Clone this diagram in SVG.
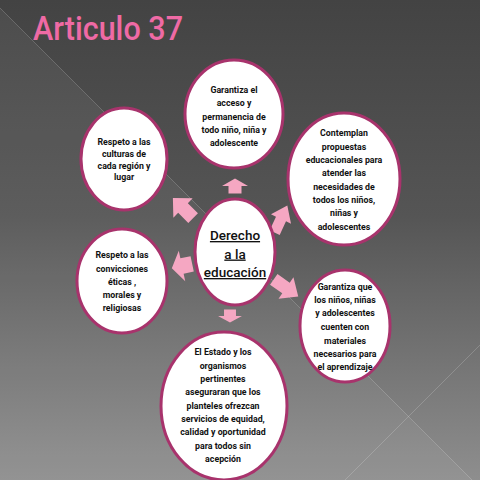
<svg xmlns="http://www.w3.org/2000/svg" xmlns:xlink="http://www.w3.org/1999/xlink" width="480" height="480" viewBox="0 0 480 480">
<defs>
<linearGradient id="bg" x1="0" y1="0" x2="0" y2="1">
<stop offset="0" stop-color="#434343"/>
<stop offset="0.45" stop-color="#555555"/>
<stop offset="1" stop-color="#8e8e8e"/>
</linearGradient>
<path id="arr" d="M-13,-6.5 L0,-6.5 L0,-13 L13,0 L0,13 L0,6.5 L-13,6.5 Z"/>
</defs>
<style>
.node ellipse{fill:#ffffff;stroke:#a8336c;stroke-width:3}
.t{font-family:Roboto,"Liberation Sans",Arial,sans-serif;font-weight:bold;font-size:8.8px;fill:#111111;text-anchor:middle}
.c{font-family:Roboto,"Liberation Sans",Arial,sans-serif;font-size:13.5px;font-weight:500;fill:#111111;text-anchor:middle;text-decoration:underline}
.arrows use{fill:#f5a7c2}
.title{font-family:Roboto,"Liberation Sans",Arial,sans-serif;font-weight:500;font-size:34px;fill:#ef6aa5}
</style>
<rect x="0" y="0" width="480" height="480" fill="url(#bg)"/>
<polygon points="0,8 480,488 0,488" fill="#ffffff" fill-opacity="0.05"/>
<line x1="0" y1="8" x2="480" y2="488" stroke="#ffffff" stroke-opacity="0.18" stroke-width="1"/>
<line x1="480" y1="345" x2="345" y2="480" stroke="#ffffff" stroke-opacity="0.18" stroke-width="1"/>
<text class="title" x="33" y="40" textLength="150" lengthAdjust="spacingAndGlyphs">Articulo 37</text>
<g id="connectors" class="arrows">
<use xlink:href="#arr" transform="translate(235,186) rotate(-90) scale(0.58,1)"/>
<use xlink:href="#arr" transform="translate(183,208) rotate(-135) scale(1.1,1.05)"/>
<use xlink:href="#arr" transform="translate(281,219) rotate(-65) scale(1.15,0.85)"/>
<use xlink:href="#arr" transform="translate(286,288) rotate(35) scale(1.15,1)"/>
<use xlink:href="#arr" transform="translate(230,316) rotate(90) scale(0.5,0.92)"/>
<use xlink:href="#arr" transform="translate(182,266) rotate(168) scale(0.8,1.2)"/>
</g>
<g id="n-acceso" class="node">
<ellipse cx="234" cy="114" rx="49" ry="54"/>
<text class="t" x="234" y="93">Garantiza el</text>
<text class="t" x="234" y="106">acceso y</text>
<text class="t" x="234" y="120">permanencia de</text>
<text class="t" x="234" y="133">todo niño, niña y</text>
<text class="t" x="234" y="146">adolescente</text>
</g>
<g id="n-propuestas" class="node">
<ellipse cx="344" cy="179" rx="56" ry="66"/>
<text class="t" x="344" y="136">Contemplan</text>
<text class="t" x="344" y="149.5">propuestas</text>
<text class="t" x="344" y="163">educacionales para</text>
<text class="t" x="344" y="176">atender  las</text>
<text class="t" x="344" y="189.5">necesidades de</text>
<text class="t" x="344" y="203">todos los niños,</text>
<text class="t" x="344" y="216">niñas y</text>
<text class="t" x="344" y="229.5">adolescentes</text>
</g>
<g id="n-culturas" class="node">
<ellipse cx="124" cy="159" rx="43" ry="51"/>
<text class="t" x="124" y="144.5">Respeto a  las</text>
<text class="t" x="124" y="157">culturas de</text>
<text class="t" x="124" y="168.5">cada región y</text>
<text class="t" x="124" y="180">lugar</text>
</g>
<g id="n-derecho" class="node">
<ellipse cx="235" cy="252" rx="40" ry="53"/>
<text class="c" x="235" y="240">Derecho</text>
<text class="c" x="235" y="258.5">a la</text>
<text class="c" x="235" y="277">educación</text>
</g>
<g id="n-convicciones" class="node">
<ellipse cx="122" cy="281" rx="45" ry="52"/>
<text class="t" x="122" y="258">Respeto a las</text>
<text class="t" x="122" y="271.5">convicciones</text>
<text class="t" x="122" y="284.5">éticas ,</text>
<text class="t" x="122" y="298">morales y</text>
<text class="t" x="122" y="311">religiosas</text>
</g>
<g id="n-materiales" class="node">
<ellipse cx="345" cy="326" rx="45" ry="56"/>
<text class="t" x="345" y="289.5">Garantiza que</text>
<text class="t" x="345" y="303">los niños, niñas</text>
<text class="t" x="345" y="316">y adolescentes</text>
<text class="t" x="345" y="329.5">cuenten con</text>
<text class="t" x="345" y="343.5">materiales</text>
<text class="t" x="345" y="357">necesarios para</text>
<text class="t" x="345" y="370">el aprendizaje</text>
</g>
<g id="n-estado" class="node">
<ellipse cx="224" cy="406" rx="63" ry="74"/>
<text class="t" x="223" y="354.5">El Estado y los</text>
<text class="t" x="223" y="368.5">organismos</text>
<text class="t" x="223" y="382">pertinentes</text>
<text class="t" x="223" y="395">aseguraran que los</text>
<text class="t" x="223" y="408.5">planteles ofrezcan</text>
<text class="t" x="223" y="422">servicios de equidad,</text>
<text class="t" x="223" y="435">calidad y oportunidad</text>
<text class="t" x="223" y="448.5">para todos sin</text>
<text class="t" x="223" y="462">acepción</text>
</g>
</svg>
